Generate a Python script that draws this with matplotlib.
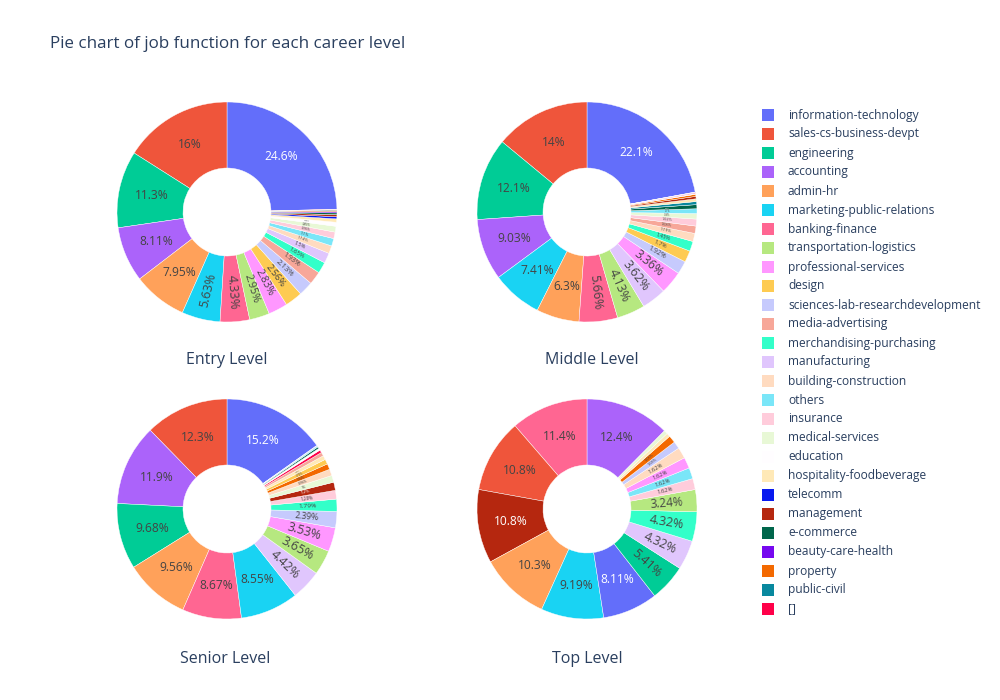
import colorsys
import numpy as np
import matplotlib
matplotlib.use("Agg")
import matplotlib.pyplot as plt
from matplotlib.patches import Rectangle

plt.rcParams['font.family'] = ['Open Sans', 'DejaVu Sans']

# legend order (= order of first appearance, Entry Level sorted)
labels = ["information-technology", "sales-cs-business-devpt", "engineering", "accounting",
          "admin-hr", "marketing-public-relations", "banking-finance", "transportation-logistics",
          "professional-services", "design", "sciences-lab-researchdevelopment", "media-advertising",
          "merchandising-purchasing", "manufacturing", "building-construction", "others",
          "insurance", "medical-services", "education", "hospitality-foodbeverage", "telecomm",
          "management", "e-commerce", "beauty-care-health", "property", "public-civil", "[]"]

# Entry Level (% share, in legend order)
entry_labels = labels
entry_values = [24.6, 16.0, 11.3, 8.11, 7.95, 5.63, 4.33, 2.95, 2.83, 2.56, 2.13, 1.93, 1.65,
                1.5, 1.14, 1.1, 0.96, 0.85, 0.58, 0.5, 0.32, 0.3, 0.25, 0.2, 0.18, 0.1, 0.05]

# Middle Level
middle_labels = ["information-technology", "sales-cs-business-devpt", "engineering", "accounting",
                 "marketing-public-relations", "admin-hr", "banking-finance", "transportation-logistics",
                 "manufacturing", "professional-services", "sciences-lab-researchdevelopment", "design",
                 "merchandising-purchasing", "building-construction", "media-advertising", "insurance",
                 "medical-services", "others", "e-commerce", "public-civil", "hospitality-foodbeverage",
                 "management", "property", "education", "[]", "telecomm", "beauty-care-health"]
middle_values = [22.1, 14.0, 12.1, 9.03, 7.41, 6.3, 5.66, 4.13, 3.62, 3.36, 1.92, 1.7, 1.45,
                 1.19, 1.08, 1.02, 0.8, 0.7, 0.6, 0.45, 0.4, 0.35, 0.3, 0.15, 0.1, 0.05, 0.03]

# Senior Level
senior_labels = ["information-technology", "sales-cs-business-devpt", "accounting", "engineering",
                 "admin-hr", "banking-finance", "marketing-public-relations", "manufacturing",
                 "transportation-logistics", "professional-services", "sciences-lab-researchdevelopment",
                 "merchandising-purchasing", "insurance", "management", "medical-services",
                 "building-construction", "property", "design", "hospitality-foodbeverage",
                 "media-advertising", "[]", "education", "e-commerce", "others", "public-civil", "telecomm"]
senior_values = [15.2, 12.3, 11.9, 9.68, 9.56, 8.67, 8.55, 4.42, 3.65, 3.53, 2.39, 1.79, 1.28,
                 1.2, 1.0, 0.96, 0.84, 0.72, 0.6, 0.55, 0.4, 0.3, 0.25, 0.15, 0.06, 0.05]

# Top Level (counts)
top_labels = ["accounting", "banking-finance", "sales-cs-business-devpt", "management", "admin-hr",
              "marketing-public-relations", "information-technology", "engineering", "manufacturing",
              "merchandising-purchasing", "transportation-logistics", "insurance", "others",
              "professional-services", "building-construction", "sciences-lab-researchdevelopment",
              "property", "hospitality-foodbeverage", "medical-services"]
top_values = [23, 21, 20, 20, 19, 17, 15, 10, 8, 8, 6, 3, 3, 3, 3, 2, 2, 1, 1]

titles = ["Entry Level", "Middle Level", "Senior Level", "Top Level"]

# plotly colorway, extended with lighter and darker shades for pies
base = ["#636EFA", "#EF553B", "#00CC96", "#AB63FA", "#FFA15A",
        "#19D3F3", "#FF6692", "#B6E880", "#FF97FF", "#FECB52"]


def shade(hexcol, dl):
    r, g, b = [int(hexcol[i:i + 2], 16) / 255 for i in (1, 3, 5)]
    h, l, s = colorsys.rgb_to_hls(r, g, b)
    l = min(1, max(0, l + dl))
    return colorsys.hls_to_rgb(h, l, s)


palette = [matplotlib.colors.to_rgb(c) for c in base]
palette += [shade(c, 0.2) for c in base] + [shade(c, -0.2) for c in base]
colour = {lab: palette[i] for i, lab in enumerate(labels)}

W, H = 1000, 700
R = 110
HOLE = 0.4
TXT = "#2a3f5f"
PX = 72 / 100  # px -> pt


def text_colour(c):
    r, g, b = [v * 255 for v in c]
    return "white" if (r * 299 + g * 587 + b * 114) / 1000 < 128 else "#444444"


def donut(cx, cy, labs, vals, title, tx, ty):
    ax = fig.add_axes([(cx - R) / W, 1 - (cy + R) / H, 2 * R / W, 2 * R / H])
    total = float(sum(vals))
    start = 90 - 360 * vals[0] / total
    wedges, _ = ax.pie(vals, colors=[colour[l] for l in labs], startangle=start,
                       counterclock=True, radius=1,
                       wedgeprops=dict(width=1 - HOLE, linewidth=0.3, edgecolor="white"))
    rt = (1 + HOLE) / 2
    for w, v, lab in zip(wedges, vals, labs):
        pct = 100 * v / total
        s = f"{pct:.3g}%"
        mid = (w.theta1 + w.theta2) / 2
        span = np.radians(w.theta2 - w.theta1)
        if pct >= 6.0:
            size, rot, r_at = 12, 0, rt
        else:
            arc = span * rt * R
            size = min(12.5, arc * 0.75, (1 - HOLE) * R * 0.9 / (0.58 * len(s)))
            m = (mid + 180) % 360 - 180
            rot = m - 180 if m > 90 else (m + 180 if m < -90 else m)
            r_at = rt + 0.03
        if size < 2:
            continue
        x, y = r_at * np.cos(np.radians(mid)), r_at * np.sin(np.radians(mid))
        ax.text(x, y, s, ha="center", va="center", rotation=rot, rotation_mode="anchor",
                fontsize=size * PX, color=text_colour(colour[lab]))
    ax.set_xlim(-1, 1)
    ax.set_ylim(-1, 1)
    ax.axis("off")
    fig.text(tx / W, 1 - ty / H, title, ha="center", va="center",
             fontsize=16 * PX, color=TXT)


fig = plt.figure(figsize=(W / 100, H / 100), dpi=100)

donut(227, 212, entry_labels, entry_values, titles[0], 227, 360)
donut(587, 212, middle_labels, middle_values, titles[1], 592, 360)
donut(227, 509, senior_labels, senior_values, titles[2], 225, 659)
donut(587, 509, top_labels, top_values, titles[3], 587, 659)

fig.text(50 / W, 1 - 44 / H, "Pie chart of job function for each career level",
         ha="left", va="center", fontsize=17 * PX, color=TXT)

# legend
for i, lab in enumerate(labels):
    y = 115 + 19 * i
    fig.add_artist(Rectangle((762 / W, 1 - (y + 6) / H), 12 / W, 12 / H,
                             transform=fig.transFigure, facecolor=colour[lab],
                             edgecolor="none"))
    fig.text(788 / W, 1 - y / H, lab, ha="left", va="center", fontsize=12 * PX, color=TXT)

fig.savefig("out.png", dpi=100, facecolor="white")
